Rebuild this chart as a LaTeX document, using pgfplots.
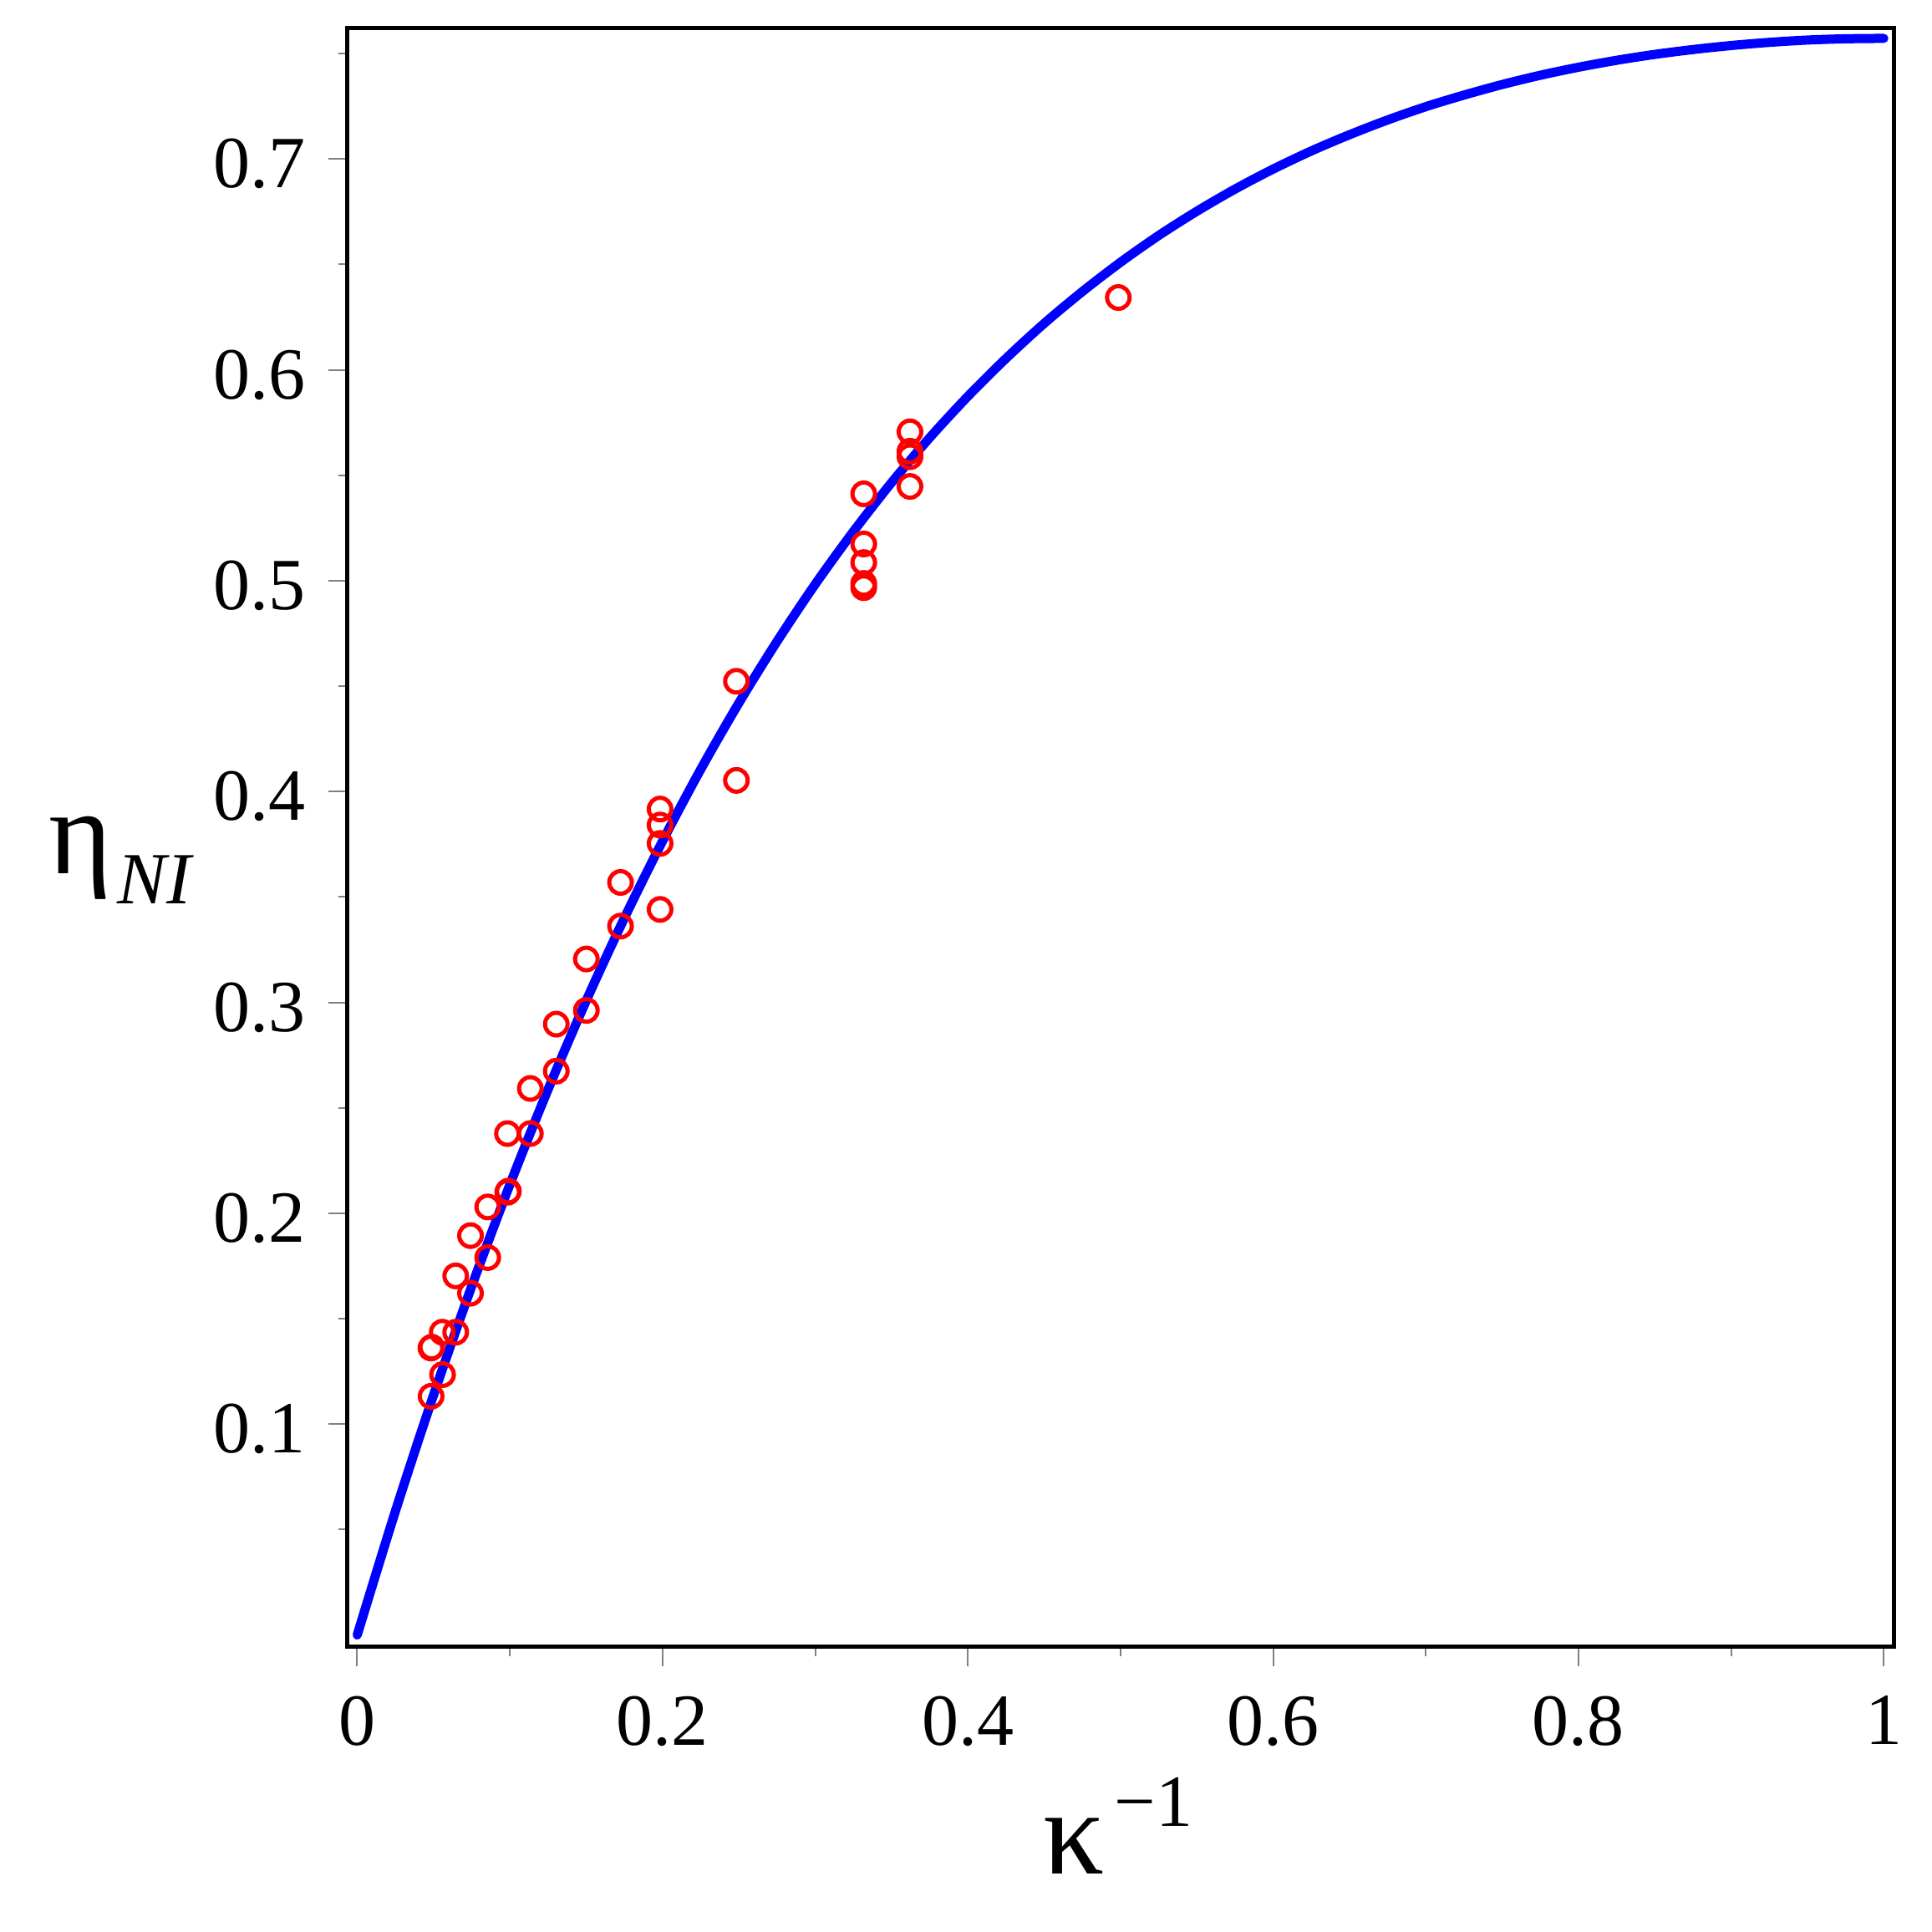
\documentclass[border=0pt]{standalone}
\usepackage{fontspec}
\setmainfont{Liberation Serif}
\usepackage{pgfplots}
\pgfplotsset{compat=1.18}
\begin{document}
\begin{tikzpicture}
\useasboundingbox (-41.56pt,-34.13pt) rectangle ++(231.2pt,231.2pt);
\begin{axis}[
  at={(0,0)}, anchor=south west,
  width=185.11pt, height=193.77pt, scale only axis,
  xmin=-0.00651, xmax=1.00679,
  ymin=-0.0056, ymax=0.7623,
  axis line style={black, line width=0.5pt},
  xtick={0,0.2,0.4,0.6,0.8,1},
  xticklabels={0,0.2,0.4,0.6,0.8,1},
  minor xtick={0.1,0.3,0.5,0.7,0.9},
  ytick={0.1,0.2,0.3,0.4,0.5,0.6,0.7},
  yticklabels={0.1,0.2,0.3,0.4,0.5,0.6,0.7},
  minor ytick={0.05,0.15,0.25,0.35,0.45,0.55,0.65,0.75},
  xtick pos=bottom, ytick pos=left,
  tick align=outside,
  major tick length=2.3pt, minor tick length=1.1pt,
  every tick/.style={gray, line width=0.2pt},
  ticklabel style={font=\fontsize{8.8}{8.8}\selectfont, inner sep=0pt},
  /pgf/number format/assume math mode=true,
  xticklabel shift=3.4pt,
  yticklabel shift=2.46pt,
  yticklabel style={yshift=-0.6pt},
  xlabel={\fontsize{14.5}{14.5}\selectfont κ\kern1.2pt\raisebox{5.77pt}{\fontsize{8.8}{8.8}\selectfont −1}},
  ylabel={\fontsize{14.5}{14.5}\selectfont η\kern0.6pt\raisebox{-3.6pt}{\fontsize{8.8}{8.8}\selectfont\itshape NI}},
  every axis x label/.style={at={(axis description cs:0,0)}, anchor=base west, xshift=83.1pt, yshift=-27.2pt, inner sep=0pt},
  every axis y label/.style={at={(axis description cs:0,0)}, anchor=base west, xshift=-35.86pt, yshift=92.5pt, inner sep=0pt},
]
\addplot[blue, line width=1.1pt, smooth, line cap=round, no markers] coordinates {
(0,0) (0.025,0.0587) (0.05,0.1138) (0.075,0.1654) (0.1,0.2136) (0.125,0.2587)
(0.15,0.3008) (0.175,0.3400) (0.2,0.3765) (0.225,0.4105) (0.25,0.4420)
(0.275,0.4712) (0.3,0.4983) (0.325,0.5233) (0.35,0.5465) (0.375,0.5678)
(0.4,0.5874) (0.425,0.6054) (0.45,0.6220) (0.475,0.6371) (0.5,0.6510)
(0.525,0.6637) (0.55,0.6752) (0.575,0.6857) (0.6,0.6952) (0.625,0.7038)
(0.65,0.7115) (0.675,0.7185) (0.7,0.7248) (0.725,0.7303) (0.75,0.7353)
(0.775,0.7397) (0.8,0.7435) (0.825,0.7468) (0.85,0.7496) (0.875,0.7519)
(0.9,0.7538) (0.925,0.7553) (0.95,0.7564) (0.975,0.7570) (1.0,0.7572)
};
\addplot[red, only marks, mark=o, mark size=1.35pt, line width=0.5pt] coordinates {
(0.0986,0.2100) (0.0990,0.2105) (0.0855,0.2030) (0.0742,0.1894) (0.0855,0.1790)
(0.0645,0.1703) (0.0742,0.1621) (0.0557,0.1436) (0.0645,0.1436)
(0.0483,0.1361) (0.0488,0.1365) (0.0559,0.1235) (0.0484,0.1132)
(0.1984,0.3917) (0.1984,0.3841) (0.1984,0.3754) (0.1725,0.3569) (0.1984,0.3441)
(0.1725,0.3362) (0.1501,0.3206) (0.1501,0.2962) (0.1304,0.2897) (0.1304,0.2674)
(0.1134,0.2592) (0.1134,0.2378) (0.0984,0.2378)
(0.3621,0.5706) (0.3621,0.5614) (0.3621,0.5588) (0.3621,0.5447)
(0.3318,0.5412) (0.3318,0.5174) (0.3318,0.5086) (0.3318,0.4987) (0.3318,0.4967)
(0.2484,0.4523) (0.2484,0.4053) (0.4986,0.6343)
};
\end{axis}
\end{tikzpicture}
\end{document}
